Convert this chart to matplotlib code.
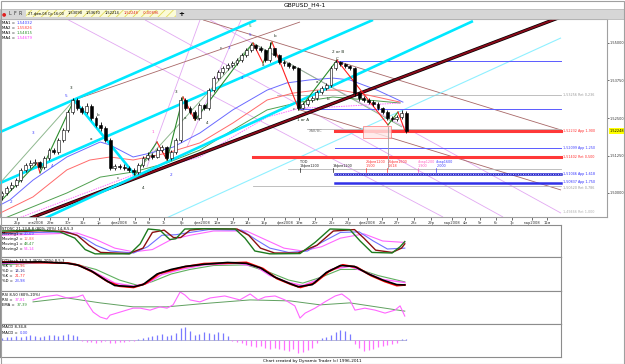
import matplotlib.pyplot as plt
from matplotlib.patches import Rectangle

plt.rcParams['font.family'] = ['DejaVu Sans']
plt.rcParams['hatch.linewidth'] = 0.6

# ---------------- data (bar index, price) ----------------
opens = [1.4990, 1.5000, 1.5017, 1.5027, 1.5043, 1.5077, 1.5093, 1.5100, 1.5103, 1.5087,
         1.5117, 1.5143, 1.5137, 1.5177, 1.5210, 1.5270, 1.5310, 1.5283, 1.5270, 1.5290,
         1.5250, 1.5227, 1.5217, 1.5177, 1.5083, 1.5090, 1.5087, 1.5083, 1.5077, 1.5070,
         1.5093, 1.5117, 1.5127, 1.5120, 1.5143, 1.5153, 1.5117, 1.5137, 1.5177, 1.5310,
         1.5283, 1.5270, 1.5250, 1.5293, 1.5283, 1.5343, 1.5383, 1.5403, 1.5417, 1.5427,
         1.5433, 1.5443, 1.5460, 1.5477, 1.5493, 1.5483, 1.5477, 1.5443, 1.5483, 1.5460,
         1.5437, 1.5433, 1.5423, 1.5417, 1.5283, 1.5297, 1.5310, 1.5317, 1.5337, 1.5350,
         1.5360, 1.5417, 1.5437, 1.5430, 1.5423, 1.5417, 1.5333, 1.5317, 1.5310, 1.5303,
         1.5297, 1.5283, 1.5270, 1.5250, 1.5247, 1.5253, 1.5267]
highs = [1.5008, 1.5022, 1.5035, 1.5050, 1.5085, 1.5100, 1.5110, 1.5112, 1.5108, 1.5122,
         1.5150, 1.5150, 1.5183, 1.5218, 1.5277, 1.5318, 1.5315, 1.5290, 1.5300, 1.5295,
         1.5257, 1.5235, 1.5225, 1.5183, 1.5098, 1.5097, 1.5095, 1.5090, 1.5083, 1.5100,
         1.5123, 1.5135, 1.5133, 1.5150, 1.5160, 1.5157, 1.5143, 1.5185, 1.5320, 1.5315,
         1.5290, 1.5275, 1.5300, 1.5298, 1.5350, 1.5390, 1.5410, 1.5425, 1.5433, 1.5440,
         1.5450, 1.5467, 1.5483, 1.5500, 1.5497, 1.5490, 1.5480, 1.5503, 1.5485, 1.5465,
         1.5443, 1.5437, 1.5427, 1.5420, 1.5303, 1.5315, 1.5323, 1.5343, 1.5357, 1.5367,
         1.5425, 1.5443, 1.5440, 1.5433, 1.5427, 1.5420, 1.5337, 1.5322, 1.5315, 1.5310,
         1.5302, 1.5288, 1.5277, 1.5257, 1.5260, 1.5275, 1.5272]
lows = [1.4977, 1.4993, 1.5010, 1.5020, 1.5037, 1.5070, 1.5085, 1.5093, 1.5080, 1.5080,
        1.5110, 1.5130, 1.5130, 1.5170, 1.5203, 1.5262, 1.5275, 1.5262, 1.5263, 1.5243,
        1.5220, 1.5208, 1.5170, 1.5075, 1.5078, 1.5080, 1.5075, 1.5070, 1.5060, 1.5065,
        1.5088, 1.5110, 1.5113, 1.5115, 1.5137, 1.5110, 1.5110, 1.5130, 1.5170, 1.5275,
        1.5262, 1.5243, 1.5245, 1.5275, 1.5277, 1.5337, 1.5377, 1.5397, 1.5410, 1.5420,
        1.5427, 1.5437, 1.5453, 1.5470, 1.5475, 1.5470, 1.5437, 1.5437, 1.5453, 1.5430,
        1.5425, 1.5415, 1.5410, 1.5277, 1.5280, 1.5290, 1.5305, 1.5310, 1.5330, 1.5343,
        1.5353, 1.5410, 1.5423, 1.5417, 1.5410, 1.5325, 1.5308, 1.5302, 1.5297, 1.5290,
        1.5277, 1.5263, 1.5243, 1.5240, 1.5240, 1.5247, 1.5200]
closes = [1.5000, 1.5017, 1.5027, 1.5043, 1.5077, 1.5093, 1.5100, 1.5103, 1.5087, 1.5117,
          1.5143, 1.5137, 1.5177, 1.5210, 1.5270, 1.5310, 1.5283, 1.5270, 1.5290, 1.5250,
          1.5227, 1.5217, 1.5177, 1.5083, 1.5090, 1.5087, 1.5083, 1.5077, 1.5070, 1.5093,
          1.5117, 1.5127, 1.5120, 1.5143, 1.5153, 1.5117, 1.5137, 1.5177, 1.5310, 1.5283,
          1.5270, 1.5250, 1.5293, 1.5283, 1.5343, 1.5383, 1.5403, 1.5417, 1.5427, 1.5433,
          1.5443, 1.5460, 1.5477, 1.5493, 1.5483, 1.5477, 1.5443, 1.5483, 1.5460, 1.5437,
          1.5433, 1.5423, 1.5417, 1.5283, 1.5297, 1.5310, 1.5317, 1.5337, 1.5350, 1.5360,
          1.5417, 1.5437, 1.5430, 1.5423, 1.5417, 1.5333, 1.5317, 1.5310, 1.5303, 1.5297,
          1.5283, 1.5270, 1.5250, 1.5247, 1.5253, 1.5267, 1.5207]

ma_names = ["MA1 = ", "MA2 = ", "MA3 = ", "MA4 = "]
ma_values = ["1,54032", "1,55826", "1,54815", "1,54679"]
ma1_x = [-0.4, 1.7, 6.6, 13.8, 20.9, 23.0, 27.9, 31.5, 36.4, 42.1, 49.1, 56.4, 60.6, 65.5, 70.4, 74.0, 79.8, 85.3]
ma1_p = [1.4960, 1.4977, 1.5043, 1.5120, 1.5170, 1.5160, 1.5120, 1.5133, 1.5153, 1.5200, 1.5277, 1.5343,
         1.5367, 1.5377, 1.5383, 1.5377, 1.5343, 1.5303]
ma2_x = [-0.4, 6.6, 13.8, 18.7, 23.0, 27.9, 35.1, 42.1, 49.1, 56.4, 61.9, 67.0, 71.9, 77.7, 84.7]
ma2_p = [1.4933, 1.4987, 1.5077, 1.5110, 1.5120, 1.5110, 1.5133, 1.5167, 1.5233, 1.5310, 1.5333, 1.5343,
         1.5343, 1.5327, 1.5303]
ma3_x = [-0.4, 13.8, 20.9, 27.9, 35.1, 42.1, 49.1, 56.4, 63.4, 70.4, 77.7, 84.7]
ma3_p = [1.4910, 1.5000, 1.5053, 1.5070, 1.5100, 1.5143, 1.5210, 1.5277, 1.5303, 1.5320, 1.5310, 1.5300]
ma4_x = [-0.4, 13.8, 27.9, 42.1, 49.1, 56.4, 63.4, 70.4, 84.7]
ma4_p = [1.4893, 1.4977, 1.5060, 1.5120, 1.5187, 1.5253, 1.5283, 1.5287, 1.5300]

# swing points of the zigzag
swing_x = [0, 7.45, 8.09, 15.32, 28.30, 32.98, 35.11, 38.51, 41.06, 53.40, 55.53, 57.45, 63.19, 71.28, 82.13, 84.26, 85.74]
swing_p = [1.4977, 1.5100, 1.5067, 1.5310, 1.5060, 1.5170, 1.5110, 1.5320, 1.5243, 1.5500, 1.5433, 1.5503,
           1.5277, 1.5443, 1.5227, 1.5270, 1.5207]

# trend lines (x0, p0, x1, p1)
maroon_lines = [(5.53, 1.4913, 118.94, 1.5587)]
cyan_lines = [(-0.43, 1.5203, 54.04, 1.5577), (-0.43, 1.5033, 78.94, 1.5577), (8.72, 1.4913, 100.2, 1.5573),
              (15.32, 1.5310, 28.30, 1.5060)]
light_cyan_lines = [(34.47, 1.4913, 118.94, 1.5517)]
brown_lines = [(15.32, 1.5310, 63.40, 1.5570), (42.77, 1.5577, 118.94, 1.5210), (63.40, 1.5277, 118.94, 1.5010)]
violet_lines = [(13.40, 1.5583, 93.83, 1.4920), (30.43, 1.5577, 106.60, 1.4920), (44.26, 1.5577, 118.94, 1.4933),
                (30.85, 1.5087, 42.13, 1.5577), (39.36, 1.5153, 50.85, 1.5577)]
guide_lines = [(-0.43, 1.5033, 15.32, 1.5310), (27.87, 1.5060, 53.40, 1.5500), (53.40, 1.5500, 85.11, 1.5220)]

# projected price levels (label_p: where the level's caption sits)
level_p = [1.5440, 1.5326, 1.5280, 1.5213, 1.5208, 1.5150, 1.5120, 1.5080, 1.5063, 1.5033, 1.5025]
label_p = [1.5440, 1.5326, 1.5280, 1.5213, 1.5208, 1.5150, 1.5120, 1.5080, 1.5063, 1.5036, 1.5017]
level_from = [71.3, 58.5, 63.4, 64.9, 70.9, 70.9, 53.4, 60.9, 70.9, 70.9, 53.4]
level_kind = ["blue", "grey", "blue", "grey", "red", "blue", "red", "grey", "bluedot", "bluebold", "grey"]
level_text = ["", "1,53256 Ret 0,236", "", "", "1,52232 App 1,900", "1,52099 App 1,250", "1,51402 Ret 0,500",
              "", "1,51046 App 1,618", "1,50837 App 1,750", "1,50520 Ret 0,786"]

# time projections
tod_x = [63.4, 70.4, 77.4, 82.0, 88.5, 92.4]
tod_top = ["TOD", "", "26фев1200", "26фев1600", "4мар1200", "4мар1600"]
tod_bottom = ["18фев1200", "19фев1200", "1,500", "1,618", "1,900", "2,000"]
tod_kind = ["black", "black", "red", "red", "pink", "blue"]

# wave labels
wave_x = [1.9, 6.6, 10.6, 13.6, 14.7, 18.9, 20.4, 24.7, 30.0, 32.1, 36.0, 37.0, 38.9, 41.7, 43.6, 46.6, 48.3,
          51.1, 52.8, 52.8, 58.1, 55.5, 62.1, 64.0, 67.0, 69.4, 71.5, 71.3]
wave_p = [1.4970, 1.5200, 1.5090, 1.5323, 1.5350, 1.5180, 1.5260, 1.5050, 1.5017, 1.5203, 1.5060, 1.5337,
          1.5250, 1.5247, 1.5233, 1.5483, 1.5483, 1.5383, 1.5555, 1.5527, 1.5523, 1.5427, 1.5280, 1.5243,
          1.5370, 1.5313, 1.5469, 1.5447]
wave_text = ["2", "3", "4", "5", "3", "a", "b", "c", "4", "1", "2", "3", "a", "b", "4", "c", "3",
             "4", "5", "5", "b", "a", "c", "1 or A", "a", "b", "2 or B", "C"]
wave_kind = ["blue", "blue", "blue", "blue", "dark", "dark", "dark", "dark", "dark", "pink", "blue", "dark",
             "dark", "dark", "dark", "dark", "blue", "blue", "green", "blue", "dark", "dark", "dark", "dark",
             "dark", "dark", "dark", "dark"]

price_ticks = [1.5000, 1.5125, 1.5250, 1.5375, 1.5500]
price_tick_text = ["1,50000", "1,51250", "1,52500", "1,53750", "1,55000"]
last_price = "1,52248"

date_pos = [3.2, 7.2, 10.2, 14.0, 17.2, 20.6, 24.9, 28.3, 31.3, 34.5, 38.3, 42.6, 45.7, 49.1, 52.3, 55.7,
            60.2, 63.2, 66.6, 70.2, 73.6, 77.7, 80.9, 84.0, 87.7, 91.3, 95.7, 98.5, 101.7, 105.1, 108.5,
            112.8, 116.0]
date_text = ["25р", "янв2008", "29м", "30т", "31с", "1р", "фев2008", "5м", "6т", "7с", "8р", "фев2008",
             "12м", "13т", "14с", "15р", "фев2008", "19м", "20т", "21с", "22р", "фев2008", "26м", "27т",
             "28с", "29р", "мар2008", "4м", "5т", "6с", "7р", "мар2008", "11м"]

# indicator panels (bar index, value)
st1_green_x = [-0.4, 8.1, 12.3, 15.5, 17.7, 19.8, 27.2, 29.4, 31.1, 33.6, 35.7, 37.0, 38.9, 42.1, 49.6, 51.7,
               53.8, 57.0, 63.4, 66.6, 69.8, 74.0, 76.2, 78.7, 83.0, 84.7, 85.7]
st1_green_v = [85, 88, 82, 60, 20, 5, 5, 40, 92, 88, 55, 58, 92, 93, 92, 60, 15, 5, 6, 45, 92, 90, 50, 10, 8, 30, 48]
st1_red_x = [-0.4, 8, 13, 16, 18.5, 21, 27, 30, 32, 34.5, 36.5, 38, 40, 43, 50, 52.5, 55, 58, 63, 67, 70.5,
             75, 77, 79.5, 83, 85, 85.7]
st1_red_v = [80, 86, 84, 70, 35, 10, 6, 25, 80, 88, 62, 62, 88, 93, 92, 70, 25, 8, 8, 35, 85, 90, 60, 18, 10, 25, 40]
st1_blue_x = [-0.4, 8, 14, 17.5, 20, 23, 28, 31, 34, 37, 40, 44, 51, 54, 57, 61, 65, 68, 72, 76, 79, 82, 85.7]
st1_blue_v = [75, 80, 82, 60, 35, 15, 8, 30, 70, 72, 80, 90, 88, 55, 25, 10, 15, 45, 80, 82, 50, 22, 25]
st1_mag_x = [-0.4, 10, 16, 20, 24, 28, 32, 36, 40, 45, 52, 56, 60, 64, 68, 72, 77, 81, 85.7]
st1_mag_v = [70, 75, 78, 55, 25, 12, 20, 55, 70, 85, 85, 55, 25, 15, 30, 60, 75, 50, 45]
st1_names = ["Moving1 = ", "Moving2 = ", "Moving1 = ", "Moving2 = "]
st1_values = ["20,69", "12,88", "48,47", "54,14"]

st2_black_x = [-0.4, 8, 14, 16, 19, 22, 24, 28, 30, 33, 36, 39, 43, 48, 52, 55, 58, 61, 63, 66, 69, 72, 75,
               78, 81, 84, 85.7]
st2_black_v = [88, 90, 85, 80, 60, 30, 12, 8, 15, 50, 65, 75, 82, 88, 85, 70, 40, 20, 8, 15, 55, 78, 75, 50, 30, 15, 14]
st2_red_x = [-0.4, 8, 14, 16.5, 19.5, 22.5, 25, 28, 30.5, 33.5, 36, 39, 43, 48, 52, 55.5, 58.5, 61.5, 63.5,
             66.5, 69.5, 72.5, 75.5, 78.5, 81.5, 84, 85.7]
st2_red_v = [90, 88, 86, 78, 55, 25, 10, 6, 18, 52, 62, 74, 84, 86, 88, 68, 35, 16, 6, 20, 58, 80, 72, 45, 25, 12, 14]
st2_green_x = [-0.4, 10, 15, 20, 25, 29, 32, 36, 40, 45, 52, 57, 61, 64, 68, 72, 76, 80, 85.7]
st2_green_v = [80, 88, 85, 65, 30, 12, 25, 50, 65, 78, 80, 55, 30, 20, 40, 65, 65, 45, 24]
st2_mag_x = [-0.4, 10, 15, 18, 21, 24, 28, 31, 34, 38, 43, 50, 54, 57, 61, 64, 67, 70, 74, 77, 81, 85.7]
st2_mag_v = [85, 88, 84, 70, 45, 20, 10, 20, 48, 65, 80, 85, 75, 45, 22, 12, 30, 65, 75, 58, 32, 22]
st2_names = ["%K = ", "%D = ", "%K = ", "%D = "]
st2_values = ["13,96", "14,16", "21,77", "23,98"]

rsi_x = [6.6, 8.7, 11.7, 13.8, 16.0, 17.2, 18.1, 19.4, 20.9, 22.3, 23.0, 25.1, 27.9, 29.4, 31.5, 33.6, 35.1,
         36.4, 37.9, 38.9, 40.0, 42.1, 44.3, 47.4, 50.6, 52.8, 54.5, 56.0, 58.1, 60.2, 62.3, 63.4, 64.5,
         66.6, 68.7, 70.9, 72.3, 74.0, 75.1, 77.2, 79.4, 81.5, 83.6, 84.7, 85.7]
rsi_v = [73, 82, 88, 79, 82, 88, 64, 36, 21, 15, 27, 36, 48, 48, 42, 52, 48, 58, 97, 88, 73, 67, 79, 85, 73,
         91, 73, 82, 85, 73, 55, 18, 33, 48, 67, 85, 91, 73, 42, 48, 42, 33, 42, 55, 24]
ema_x = [6.6, 13.8, 20.9, 27.9, 35.1, 42.1, 52.8, 61.3, 67.7, 74.0, 85.7]
ema_v = [67, 79, 64, 52, 52, 61, 73, 70, 58, 64, 39]

macd_hist = [2, 3, 3, 4, 3, 4, 5, 4, 3, 4,
             5, 5, 4, 5, 6, 5, 4, -1, -2, -2,
             -3, -2, -1, -3, -3, -2, -2, -1, -1, 1,
             2, 3, 4, 5, 6, 4, 5, 7, 12, 13,
             9, 5, 6, 8, 7, 6, 8, 7, 4, -1,
             -2, -3, -5, -6, -7, -6, -8, -9, -8, -9,
             -10, -11, -9, -13, -12, -10, -8, -3, 2, 3,
             5, 8, 10, 9, 6, -4, -8, -11, -10, -9,
             -7, -6, -5, -4, -3, 1, 1]

# ---------------- layout (pixels of the 625x364 picture) ----------------
W, H = 625, 364
BAR0, STEP = 2.0, 4.7           # pixel x of bar 0, pixels per bar
X_LO = -BAR0 / STEP
X_HI_MAIN = (607 - BAR0) / STEP
X_HI_SUB = (561 - BAR0) / STEP
LABEL_X = (563 - BAR0) / STEP

fig = plt.figure(figsize=(6.25, 3.64), dpi=100)
fig.patch.set_facecolor('white')


def box(x0, y0, x1, y1):
    return [x0 / W, 1 - y1 / H, (x1 - x0) / W, (y1 - y0) / H]


def ftext(x, y, s, **kw):
    kw.setdefault('fontsize', 2.7)
    kw.setdefault('va', 'center')
    fig.text(x / W, 1 - y / H, s, **kw)


# title and toolbar
ftext(305, 5, "GBPUSD_H4-1", fontsize=4.3, ha='center')
fig.patches.append(Rectangle((0, 1 - 18.5 / H), 1, 9.5 / H, transform=fig.transFigure,
                             facecolor='#d6d6d6', edgecolor='#b0b0b0', lw=0.5))
fig.patches.append(Rectangle((26 / W, 1 - 17 / H), 150 / W, 7 / H, transform=fig.transFigure,
                             facecolor='#fbfbd8', edgecolor='#e2da5a', hatch='////', lw=0))
ftext(4, 13.5, "●", color='#e02020', fontsize=3.6, ha='center')
for xx, s in zip([10, 15, 20], ["L", "F", "R"]):
    ftext(xx, 13.5, s, fontsize=3.4, ha='center', color='#303030')
ftext(27.5, 13.5, "27-фев-08 Ср 16:00", fontsize=2.5)
for xx, s, c in zip([68, 86, 105, 124, 143], ["1,53090", "1,53670", "1,52214", "1,52248", "-0,00896"],
                    ['black', 'black', 'black', '#e02020', '#e02020']):
    ftext(xx, 13.5, s, fontsize=2.6, color=c)
ftext(181, 13.5, "+", fontsize=5, fontweight='bold', ha='center')

# ---------------- main price panel ----------------
ax = fig.add_axes(box(0, 19, 607, 217))
ax.set_xlim(X_LO, X_HI_MAIN)
ax.set_ylim(1.4920, 1.5580)
for s in ax.spines.values():
    s.set_color('#a0a0a0')
    s.set_linewidth(0.8)


def seg(lines, **kw):
    for x0, p0, x1, p1 in lines:
        ax.plot([x0, x1], [p0, p1], solid_capstyle='butt', **kw)


seg(violet_lines, color='#e2a8f2', lw=0.6, zorder=1)
seg(brown_lines, color='#a86868', lw=0.6, zorder=1)
seg(light_cyan_lines, color='#8ff0ff', lw=0.8, zorder=1)
seg(guide_lines, color='#8fb88f', lw=0.7, zorder=2)

# price levels
level_style = {"blue": dict(color='#5a5aff', lw=0.7),
               "grey": dict(color='#b4b4b4', lw=0.6),
               "red": dict(color='#ff3838', lw=2.2),
               "bluedot": dict(color='#2222cc', lw=1.8),
               "bluebold": dict(color='#3030e8', lw=1.8)}
label_color = {"blue": '#4040ff', "grey": '#9a9a9a', "red": '#ff3030', "bluedot": '#3030ff', "bluebold": '#3030ff'}
for p, lp, x0, kind, txt in zip(level_p, label_p, level_from, level_kind, level_text):
    ax.plot([x0, X_HI_SUB], [p, p], zorder=2, **level_style[kind])
    if kind == "bluedot":
        ax.plot([x0, X_HI_SUB], [p, p], color='white', lw=0.6, ls=(0, (1, 2)), zorder=2)
    if txt:
        ax.text(LABEL_X, lp, txt, fontsize=2.4, color=label_color[kind], va='center')
ax.text(LABEL_X, 1.4935, "1,49466 Ret 1,000", fontsize=2.4, color='#b0b0b0', va='center')

# retracement box and time projections
ax.add_patch(Rectangle((76.8, 1.5183), 6.0, 0.0040, facecolor='#ffe8e8', edgecolor='#ff7070', lw=0.6,
                       alpha=0.8, zorder=2))
ax.plot([82.1, 82.1], [1.5220, 1.5083], color='#a0a0a0', lw=0.6, zorder=2)
tod_color = {"black": '#202020', "red": '#ff3030', "pink": '#ff60c0', "blue": '#4040ff'}
for x, t1, t2, kind in zip(tod_x, tod_top, tod_bottom, tod_kind):
    c = tod_color[kind]
    if t1:
        ax.text(x, 1.5104, t1, fontsize=2.4, color=c, va='center')
    ax.text(x, 1.5090, t2, fontsize=2.4, color=c, va='center')
    ax.plot([x, x], [1.5083, 1.5071], color=c, lw=0.5, zorder=2)

# moving averages
ax.plot(ma3_x, ma3_p, color='#50a050', lw=0.7, zorder=3)
ax.plot(ma4_x, ma4_p, color='#ff70ff', lw=0.7, ls=(0, (1.5, 1)), zorder=3)
ax.plot(ma2_x, ma2_p, color='#ff6a6a', lw=0.7, zorder=3)
ax.plot(ma1_x, ma1_p, color='#6a6aff', lw=0.7, zorder=3)

# main trend lines
seg(maroon_lines, color='#000000', lw=2.4, zorder=3)
seg(maroon_lines, color='#8a0a1a', lw=1.4, zorder=3)
seg(cyan_lines, color='#00e8ff', lw=1.9, zorder=3)

# zigzag
for k in range(len(swing_x) - 1):
    up = swing_p[k + 1] > swing_p[k]
    if k == 3:
        continue  # this leg is part of the cyan set
    ax.plot(swing_x[k:k + 2], swing_p[k:k + 2], color='#2c8c2c' if up else '#ff2020', lw=0.8, zorder=4)

# candles
ax.vlines(range(len(closes)), lows, highs, color='black', lw=0.6, zorder=5)
body_col = ['white' if c >= o else 'black' for o, c in zip(opens, closes)]
ax.bar(range(len(closes)), [max(abs(c - o), 0.0002) for o, c in zip(opens, closes)],
       bottom=[min(o, c) for o, c in zip(opens, closes)], width=0.62,
       color=body_col, edgecolor='black', linewidth=0.4, zorder=6)

# wave labels
wave_color = {"blue": '#3c3cff', "dark": '#1c2c1c', "pink": '#ff50d0', "green": '#2a8a2a'}
for x, p, s, kind in zip(wave_x, wave_p, wave_text, wave_kind):
    ax.text(x, p, s, fontsize=3.0, color=wave_color[kind], ha='center', va='center', zorder=7)
ax.text(66.8, 1.5207, "XAB/BC", fontsize=2.6, color='#808080', ha='center', va='center', zorder=7)

# MA legend
for k, (n, v, c) in enumerate(zip(ma_names, ma_values, ['#4040ff', '#ff4040', '#309030', '#ff40ff'])):
    ftext(2, 23 + 5 * k, n, fontsize=2.8)
    ftext(17, 23 + 5 * k, v, fontsize=2.8, color=c)

# axes ticks
ax.yaxis.tick_right()
ax.set_yticks(price_ticks)
ax.set_yticklabels(price_tick_text)
ax.tick_params(axis='y', length=1.5, width=0.5, pad=0.5, labelsize=2.5, colors='#303030')
ax.set_xticks(date_pos)
ax.set_xticklabels(date_text)
ax.tick_params(axis='x', length=2, width=0.5, pad=0.6, labelsize=2.6, colors='#303030')
ax.text(1.004, closes[-1], last_price, transform=ax.get_yaxis_transform(), fontsize=2.5, va='center',
        bbox=dict(boxstyle='square,pad=0.2', facecolor='#ffff00', edgecolor='none'))

# ---------------- indicator panels ----------------


def panel(y0, y1, ylim):
    p = fig.add_axes(box(0, y0, 561, y1))
    p.set_xlim(X_LO, X_HI_SUB)
    p.set_ylim(*ylim)
    p.set_xticks([])
    p.set_yticks([])
    for s in p.spines.values():
        s.set_color('#8c8c8c')
        s.set_linewidth(0.8)
    return p


p1 = panel(225, 257, (-6, 106))
p1.plot(st1_mag_x, st1_mag_v, color='#ff66ff', lw=0.8)
p1.plot(st1_blue_x, st1_blue_v, color='#7070ff', lw=0.8)
p1.plot(st1_red_x, st1_red_v, color='#8a1010', lw=1.0)
p1.plot(st1_green_x, st1_green_v, color='#1e7a1e', lw=1.0)
ftext(2, 228.5, "STOSC 21,13,8,8 (80%-20%) 14,8,5,3")
for k, (n, v, c) in enumerate(zip(st1_names, st1_values, ['#4040ff', '#ff6060', '#309030', '#ff40ff'])):
    ftext(2, 234 + 5 * k, n)
    ftext(24, 234 + 5 * k, v, color=c)

p2 = panel(257, 291, (-6, 106))
p2.plot(st2_green_x, st2_green_v, color='#60b060', lw=0.8)
p2.plot(st2_mag_x, st2_mag_v, color='#ff60ff', lw=1.0)
p2.plot(st2_red_x, st2_red_v, color='#ff0000', lw=1.4)
p2.plot(st2_black_x, st2_black_v, color='#000000', lw=1.2)
ftext(2, 260.5, "DTStoch 16,5,3 (80%-20%) 8,5,3")
for k, (n, v, c) in enumerate(zip(st2_names, st2_values, ['#ff3030', '#303080', '#ff3030', '#4040ff'])):
    ftext(2, 266 + 5 * k, n)
    ftext(15, 266 + 5 * k, v, color=c)

p3 = panel(291, 324, (0, 100))
p3.plot(ema_x, ema_v, color='#60a060', lw=0.7)
p3.plot(rsi_x, rsi_v, color='#ff66ff', lw=0.8)
ftext(2, 294.5, "RSI 8,50 (80%-20%)")
ftext(2, 300, "RSI = ")
ftext(15, 300, "37,81", color='#ff40ff')
ftext(2, 305, "EMA = ")
ftext(17, 305, "37,39", color='#309030')

p4 = panel(324, 357, (-17, 16))
p4.plot([X_LO, len(macd_hist) - 1], [0, 0], color='#b0b0d0', lw=0.6)
p4.vlines(range(len(macd_hist)), 0, macd_hist, lw=0.9,
          colors=['#7a7aff' if v > 0 else '#ff70ff' for v in macd_hist])
ftext(2, 327.5, "MACD 8,34,8")
ftext(2, 333, "MACD = ")
ftext(20, 333, "0,00", color='#4040ff')

ftext(312, 361, "Chart created by Dynamic Trader (c) 1996-2011", fontsize=3.0, ha='center')

# outer frame
fig.patches.append(Rectangle((0.5 / W, 0.5 / H), 623 / W, 363 / H, transform=fig.transFigure,
                             facecolor='none', edgecolor='#a0a0a0', lw=0.8))

fig.savefig('out.png', dpi=100)
